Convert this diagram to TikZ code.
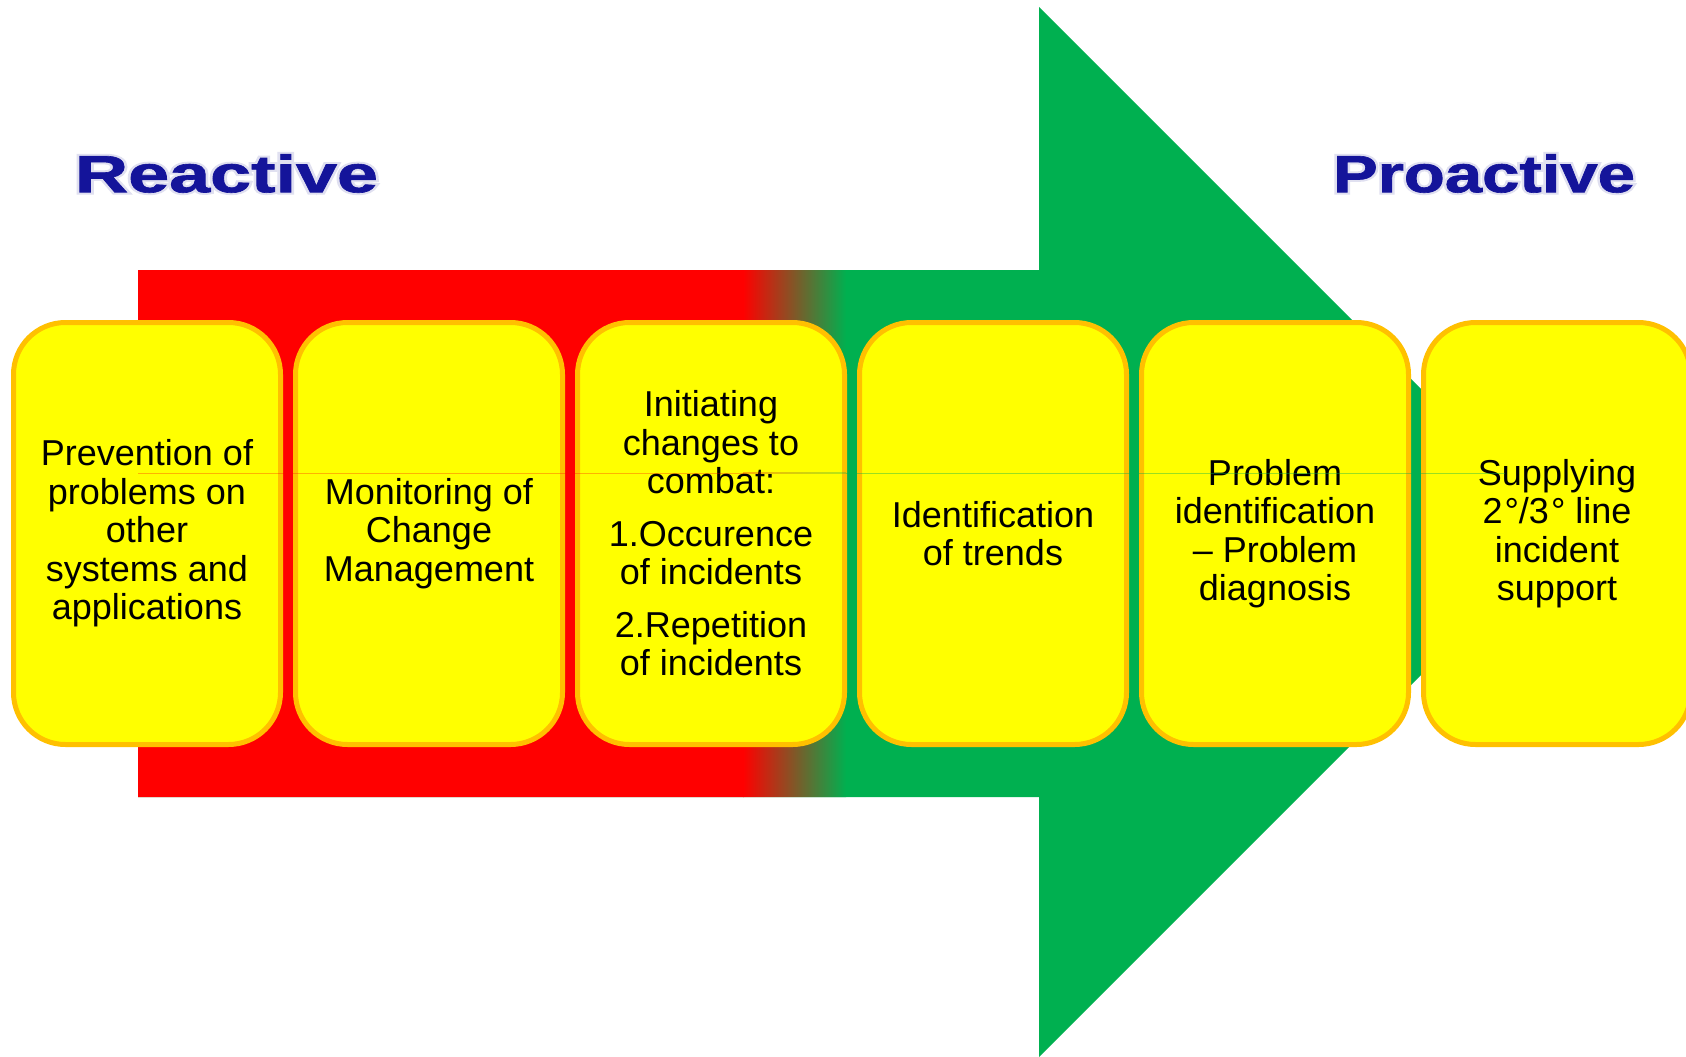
\documentclass[tikz,border=0pt]{standalone}
\usepackage{fontspec}
\setmainfont{Liberation Sans}
\newfontfamily\titlefont[FakeBold=1.2]{Liberation Sans Bold}
\newfontfamily\glowfont[FakeBold=9]{Liberation Sans Bold}
\definecolor{arrgreen}{HTML}{00B050}
\definecolor{arrred}{HTML}{FF0000}
\definecolor{boxyellow}{HTML}{FFFF00}
\definecolor{boxborder}{HTML}{FFC000}
\definecolor{titleblue}{HTML}{14149A}
\definecolor{glow}{HTML}{E0E0F0}
\newcommand{\glowtext}[1]{\rlap{\glowfont\color{glow}#1}{\titlefont #1}}
\begin{document}
\begin{tikzpicture}[x=1pt,y=-1pt,
  stage/.style={draw=boxborder, fill=boxyellow, line width=5pt, rounded corners=52pt,
    minimum width=267pt, minimum height=422pt, inner sep=0pt, text=black, align=center,
    font=\fontsize{36}{38.5}\selectfont},
  title/.style={text=titleblue, inner sep=0pt, font=\fontsize{52}{60}\selectfont}]
\clip (0,0) rectangle (1686,1057);
\fill[white] (0,0) rectangle (1686,1057);
% big arrow
\begin{scope}
\clip (138,270) -- (1039,270) -- (1039,7) -- (1564,532) -- (1039,1057)
  -- (1039,797) -- (138,797) -- cycle;
\fill[arrgreen] (130,0) rectangle (1686,1057);
\fill[arrred] (130,260) rectangle (744,810);
\shade[left color=arrred, right color=arrgreen] (743,260) rectangle (846,810);
\end{scope}
% stages
\node[stage] (s1) at (147,533.5) {Prevention of\\problems on\\other\\systems and\\applications};
\node[stage] (s2) at (429,533.5) {Monitoring of\\Change\\Management};
\node[stage] (s3) at (711,533.5) {Initiating\\changes to\\combat:\\[14pt]1.Occurence\\of incidents\\[14pt]2.Repetition\\of incidents};
\node[stage] (s4) at (993,533.5) {Identification\\of trends};
\node[stage] (s5) at (1275,533.5) {Problem\\identification\\– Problem\\diagnosis};
\node[stage] (s6) at (1557,533.5) {Supplying\\2\kern2pt°/3\kern2pt° line\\incident\\support};
% thin seam line
\fill[arrred, opacity=0.3] (138,472.5) rectangle (744,473.5);
\shade[left color=arrred, right color=arrgreen, opacity=0.3] (743,472.5) rectangle (846,473.5);
\fill[arrgreen, opacity=0.4] (846,472.5) rectangle (1505,473.5);
% titles
\node[title] (reactive) at (226.5,173.5) {\resizebox{303pt}{38pt}{\glowtext{Reactive}}};
\node[title] (proactive) at (1484,173.5) {\resizebox{302pt}{38pt}{\glowtext{Proactive}}};
\end{tikzpicture}
\end{document}
